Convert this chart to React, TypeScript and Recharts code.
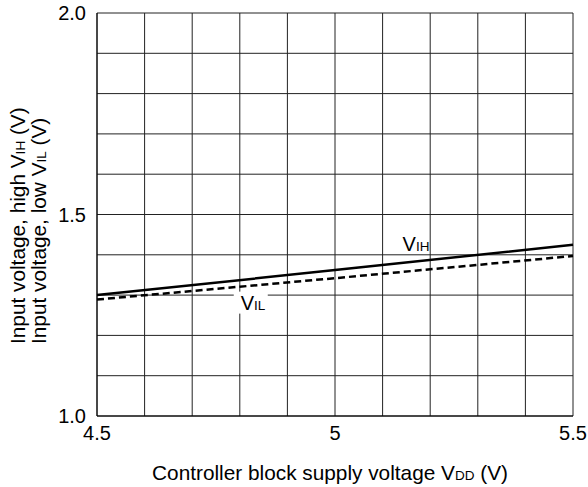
import { CartesianGrid, Line, LineChart, ReferenceDot, XAxis, YAxis } from "recharts";

// Supply voltage VDD (V) and the thresholds
const VDD = [4.5, 5.0, 5.5];
const VIH = [1.3, 1.362, 1.425];
const VIL = [1.289, 1.342, 1.397];

const X_TICKS = [4.5, 4.6, 4.7, 4.8, 4.9, 5.0, 5.1, 5.2, 5.3, 5.4, 5.5];
const Y_TICKS = [1.0, 1.1, 1.2, 1.3, 1.4, 1.5, 1.6, 1.7, 1.8, 1.9, 2.0];
const X_LABELED = [4.5, 5.0, 5.5];
const Y_LABELED = [1.0, 1.5, 2.0];

const data = VDD.map((v, i) => ({ vdd: v, vih: VIH[i], vil: VIL[i] }));

const FONT = "'Liberation Sans', Arial, sans-serif";
const INK = "#000";
const SUB = 13.5;

const XTitle = (props: any) => {
  const vb = props.viewBox;
  return (
    <text
      x={vb.x + vb.width / 2 - 5}
      y={vb.y + 64}
      textAnchor="middle"
      fontFamily={FONT}
      fontSize={20.8}
      fill={INK}
    >
      Controller block supply voltage V<tspan fontSize={SUB}>DD</tspan> (V)
    </text>
  );
};

const YTitle = () => {
  const y = 344;
  return (
    <g fontFamily={FONT} fontSize={20.8} fill={INK}>
      <text x={25} y={y} transform={`rotate(-90 25 ${y})`} textAnchor="start">
        Input voltage, high V<tspan fontSize={SUB}>IH</tspan> (V)
      </text>
      <text x={46} y={y} transform={`rotate(-90 46 ${y})`} textAnchor="start">
        Input voltage, low V<tspan fontSize={SUB}>IL</tspan> (V)
      </text>
    </g>
  );
};

const VihTag = (props: any) => {
  const { x, y } = props.viewBox;
  return (
    <text x={x} y={y} fontFamily={FONT} fontSize={20} fill={INK}>
      V<tspan fontSize={SUB}>IH</tspan>
    </text>
  );
};

const VilTag = (props: any) => {
  const { x, y } = props.viewBox;
  return (
    <g>
      <rect x={x - 7} y={y - 18} width={34} height={22} fill="#fff" />
      <text x={x} y={y} fontFamily={FONT} fontSize={20} fill={INK}>
        V<tspan fontSize={SUB}>IL</tspan>
      </text>
    </g>
  );
};

export default function App() {
  return (
    <div style={{ position: "absolute", left: 0, top: 0, width: 588, height: 487, background: "#fff" }}>
      <LineChart
        width={588}
        height={487}
        data={data}
        margin={{ top: 13, right: 15, bottom: 0, left: 0 }}
      >
        <CartesianGrid stroke="#222" strokeWidth={1} />
        <XAxis
          dataKey="vdd"
          type="number"
          domain={[4.5, 5.5]}
          ticks={X_TICKS}
          tickFormatter={(v: number) => (X_LABELED.includes(v) ? String(v) : "")}
          tick={{ fill: INK, fontSize: 20, fontFamily: FONT }}
          axisLine={{ stroke: INK, strokeWidth: 1 }}
          tickLine={false}
          tickSize={6}
          tickMargin={4}
          height={71}
          interval={0}
          label={<XTitle />}
        />
        <YAxis
          type="number"
          domain={[1.0, 2.0]}
          ticks={Y_TICKS}
          tickFormatter={(v: number) => (Y_LABELED.includes(v) ? v.toFixed(1) : "")}
          tick={{ fill: INK, fontSize: 20, fontFamily: FONT }}
          axisLine={{ stroke: INK, strokeWidth: 1 }}
          tickLine={false}
          tickSize={6}
          tickMargin={5}
          width={97}
          interval={0}
          label={<YTitle />}
        />
        <Line
          dataKey="vih"
          stroke={INK}
          strokeWidth={2.5}
          dot={false}
          type="linear"
          isAnimationActive={false}
        />
        <Line
          dataKey="vil"
          stroke={INK}
          strokeWidth={2.5}
          strokeDasharray="7 4"
          dot={false}
          type="linear"
          isAnimationActive={false}
        />
        <ReferenceDot x={5.142} y={1.409} r={0} fill="none" stroke="none" label={<VihTag />} />
        <ReferenceDot x={4.802} y={1.264} r={0} fill="none" stroke="none" label={<VilTag />} />
      </LineChart>
    </div>
  );
}
